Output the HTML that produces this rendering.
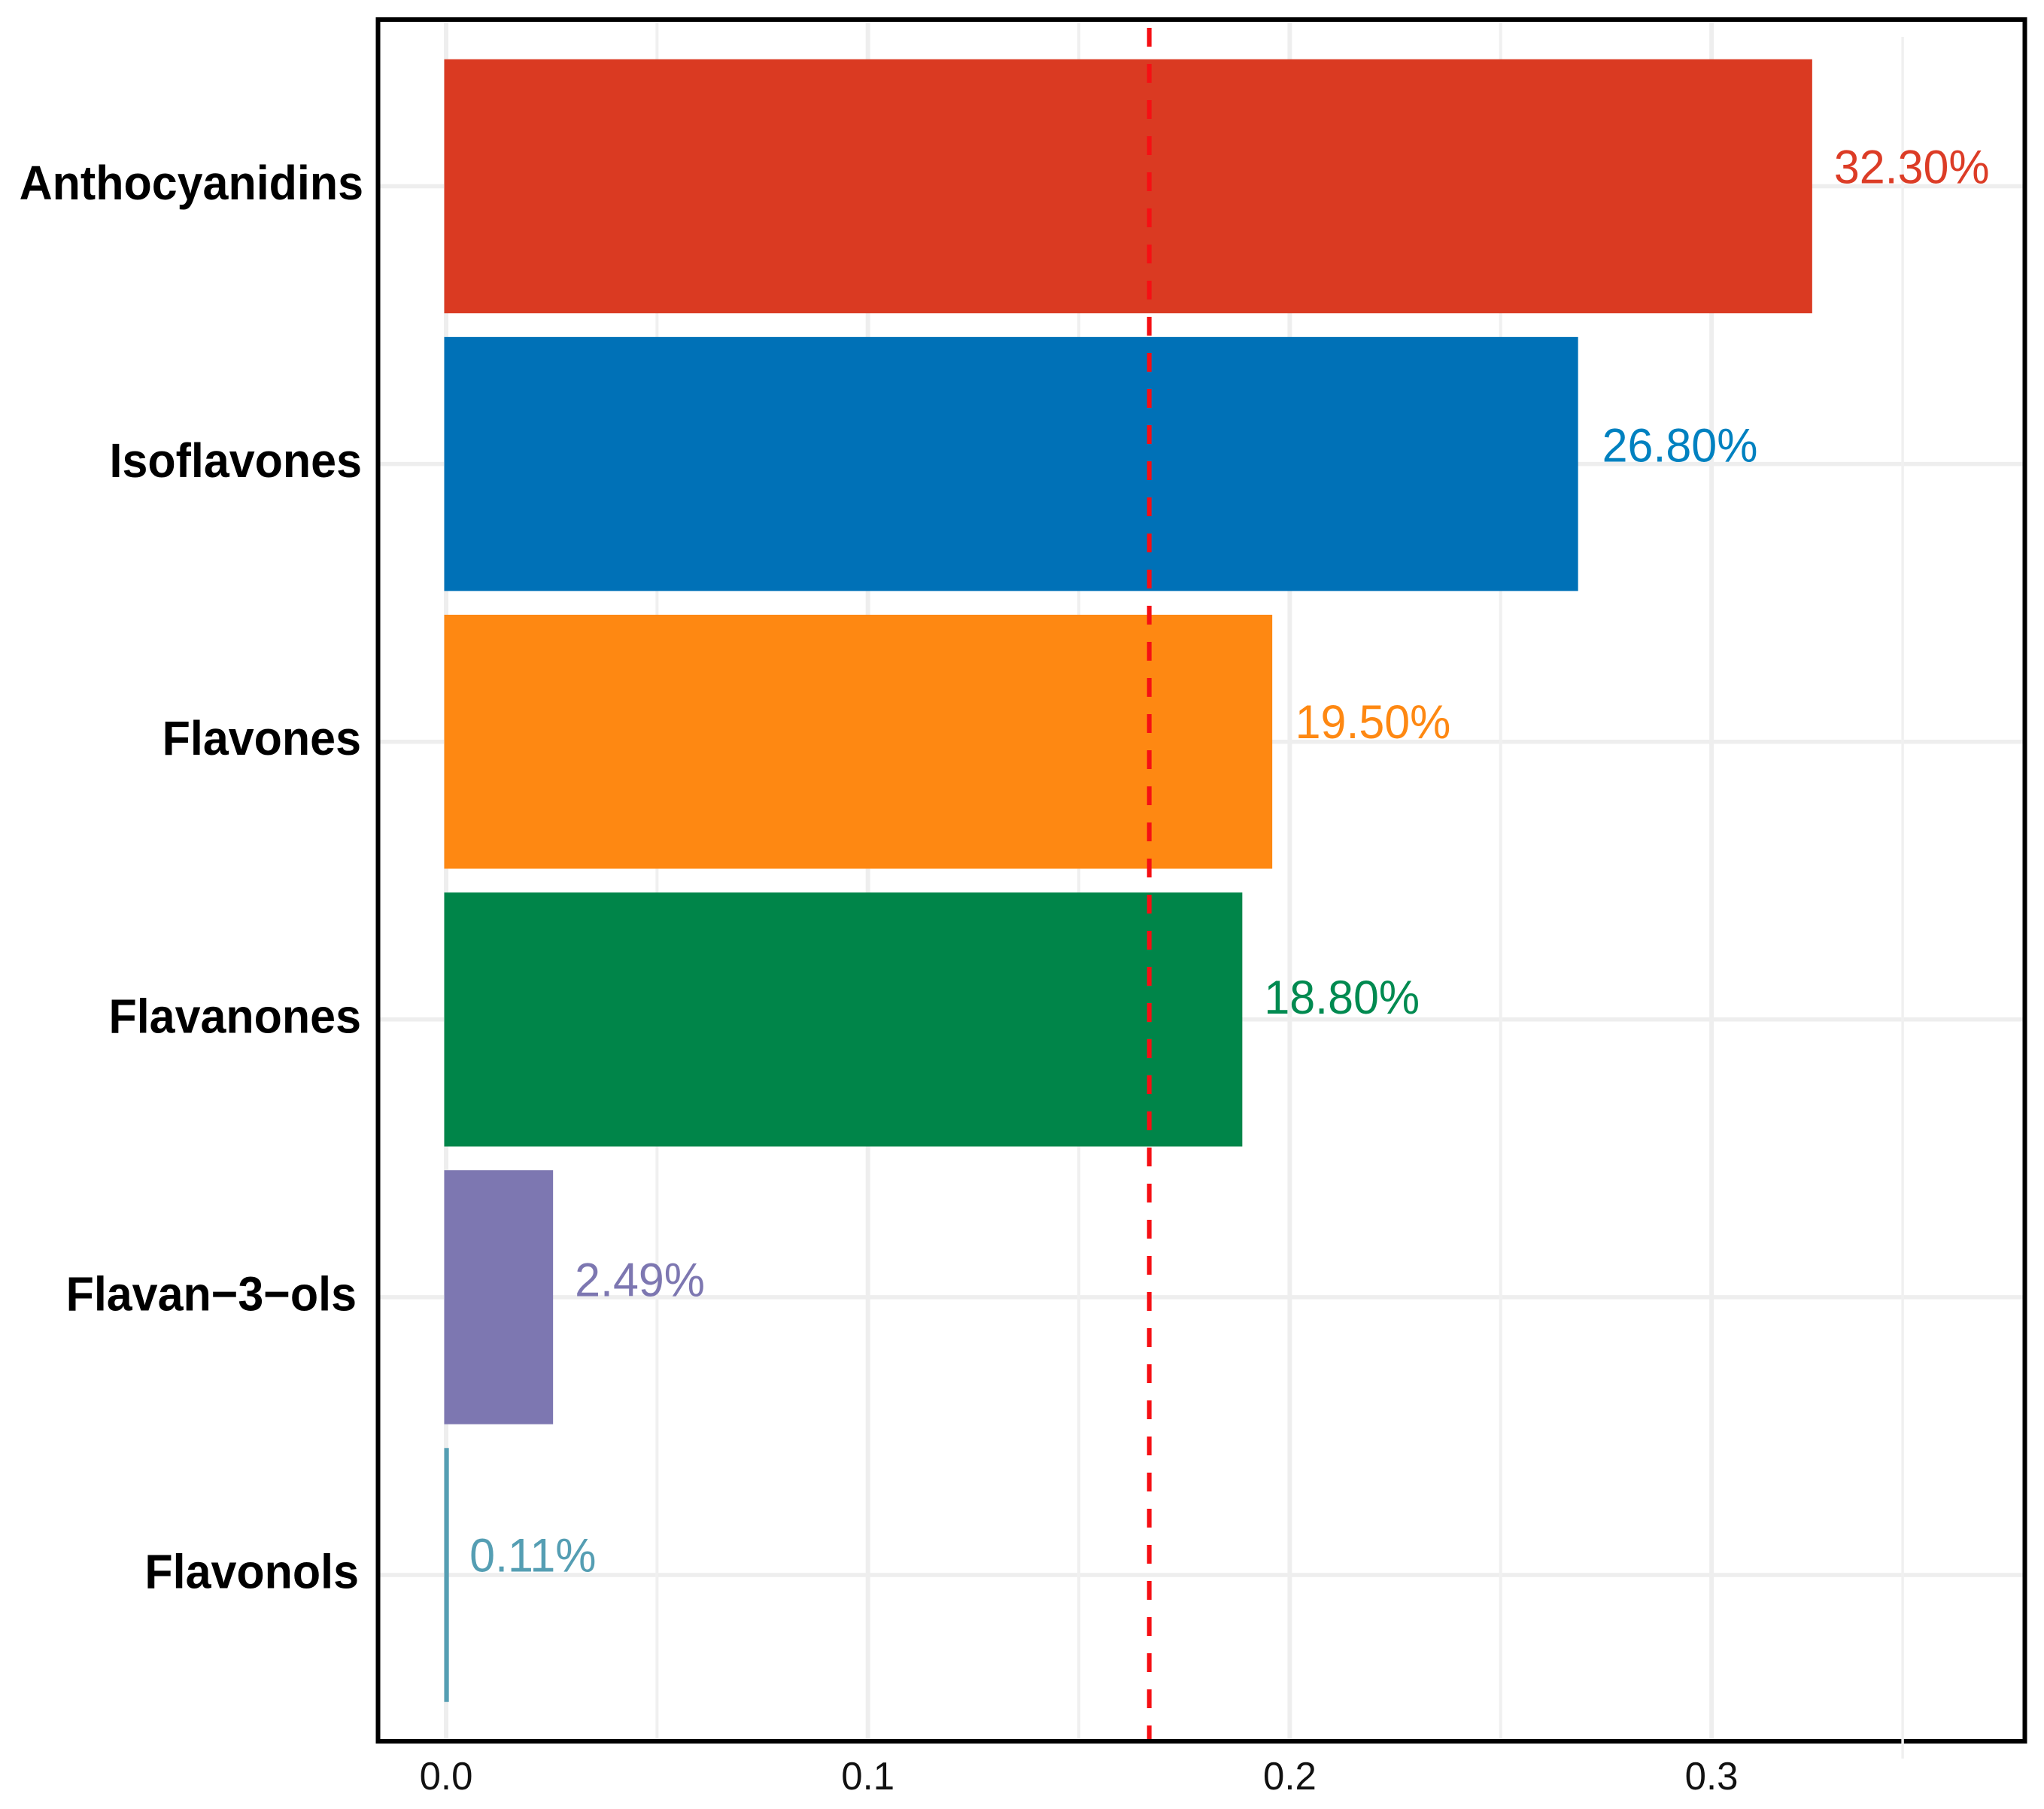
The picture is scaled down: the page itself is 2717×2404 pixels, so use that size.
<!DOCTYPE html>
<html lang="en">
<head>
<meta charset="utf-8">
<title>Flavonoid subclass bar chart</title>
<style>
  html, body { margin: 0; padding: 0; background: #ffffff; }
  #chart { display: block; }
  text { font-family: "Liberation Sans", Arial, sans-serif; }
</style>
</head>
<body>
<svg id="chart" xmlns="http://www.w3.org/2000/svg" width="2717" height="2404" viewBox="0 0 2717 2404">
  <rect x="0" y="0" width="2717" height="2404" fill="#ffffff"></rect>
  <g id="grid"></g>
  <g id="bars"></g>
  <g id="reference"></g>
  <rect id="frame" fill="none" stroke="#000000" stroke-width="6"></rect>
  <g id="stray"></g>
  <g id="category-labels"></g>
  <g id="value-labels"></g>
  <g id="x-ticks"></g>
</svg>
<script>
const categories = ["Anthocyanidins", "Isoflavones", "Flavones", "Flavanones", "Flavan\u22123\u2212ols", "Flavonols"];
const values = [0.3243, 0.2688, 0.1963, 0.1892, 0.0258, 0.0011];
const valueLabels = ["32.30%", "26.80%", "19.50%", "18.80%", "2.49%", "0.11%"];
const barColors = ["#da3a22", "#0071b7", "#fe8812", "#008549", "#7d77b1", "#559eb3"];
const labelColors = ["#dc3c26", "#0081c0", "#fe8812", "#008a50", "#7d77b1", "#559eb3"];
const majorTicks = [0.0, 0.1, 0.2, 0.3];
const tickLabels = ["0.0", "0.1", "0.2", "0.3"];
const minorTicks = [0.05, 0.15, 0.25];
const strayTick = 0.3453;
const referenceValue = 0.1667;

const layout = {
  left: 502.5, right: 2691.5, top: 26, bottom: 2314,
  x0: 593, unit: 5607,
  y0: 247.5, step: 369.1, barHeight: 337.5, barInset: 2.5
};
const categoryLabelRight = [483, 481, 480, 480, 474, 477];
const valueLabelLift = [4, 3, 4.5, 8, 1.5, 4.5];
const valueLabelGap = [29, 32, 30.5, 29, 29, 27.5];

const NS = "http://www.w3.org/2000/svg";
function xScale(v) { return layout.x0 + v * layout.unit; }
function yScale(i) { return layout.y0 + i * layout.step; }
function make(tag, parent, props) {
  const el = document.createElementNS(NS, tag);
  for (const k in props) el.setAttribute(k, props[k]);
  parent.appendChild(el);
  return el;
}

const frame = document.getElementById("frame");
frame.setAttribute("x", layout.left);
frame.setAttribute("y", layout.top);
frame.setAttribute("width", layout.right - layout.left);
frame.setAttribute("height", layout.bottom - layout.top);

const grid = document.getElementById("grid");
categories.forEach(function (c, i) {
  const line = make("line", grid, { x1: layout.left, x2: layout.right, y1: yScale(i), y2: yScale(i), stroke: "#eeeeee", "stroke-width": 5.5 });
  
  
});
minorTicks.forEach(function (t) {
  const line = make("line", grid, { x1: xScale(t), x2: xScale(t), y1: layout.top, y2: layout.bottom, stroke: "#f0f0f0", "stroke-width": 4 });
  
  
});
majorTicks.forEach(function (t) {
  const line = make("line", grid, { x1: xScale(t), x2: xScale(t), y1: layout.top, y2: layout.bottom, stroke: "#eeeeee", "stroke-width": 6 });
  
  
});

const bars = document.getElementById("bars");
values.forEach(function (v, i) {
  const rect = make("rect", bars, {
    x: layout.x0 - layout.barInset,
    y: yScale(i) - layout.barHeight / 2,
    width: Math.max(0, xScale(v) - xScale(0)),
    height: layout.barHeight,
    fill: barColors[i]
  });
  
  
});

const refLine = make("line", document.getElementById("reference"), {
  x1: xScale(referenceValue), x2: xScale(referenceValue),
  y1: 37, y2: layout.bottom,
  stroke: "#f50f14", "stroke-width": 6, "stroke-dasharray": "25 23"
});



const strayLine = make("line", document.getElementById("stray"), {
  x1: xScale(strayTick), x2: xScale(strayTick),
  y1: 49, y2: 2337, stroke: "#f0f0f0", "stroke-width": 3.5
});



const catGroup = document.getElementById("category-labels");
categories.forEach(function (c, i) {
  const t = make("text", catGroup, {
    transform: "translate(" + categoryLabelRight[i] + "," + (yScale(i) + 17.5) + ") scale(0.953,1)",
    "text-anchor": "end", "font-size": 64, "font-weight": "bold", fill: "#000000"
  });
  t.textContent = c;
  
  
});

const valGroup = document.getElementById("value-labels");
valueLabels.forEach(function (label, i) {
  const t = make("text", valGroup, {
    transform: "translate(" + (xScale(values[i]) - layout.barInset + valueLabelGap[i]) + "," + (yScale(i) - valueLabelLift[i]) + ") scale(0.96,1)",
    "font-size": 63.5, fill: labelColors[i]
  });
  t.textContent = label;
  
  
});

const tickGroup = document.getElementById("x-ticks");
majorTicks.forEach(function (v, i) {
  const t = make("text", tickGroup, {
    transform: "translate(" + xScale(v) + ",2378) scale(0.98,1)",
    "text-anchor": "middle", "font-size": 52, fill: "#111111"
  });
  t.textContent = tickLabels[i];
  
  
});
</script>
</body>
</html>
